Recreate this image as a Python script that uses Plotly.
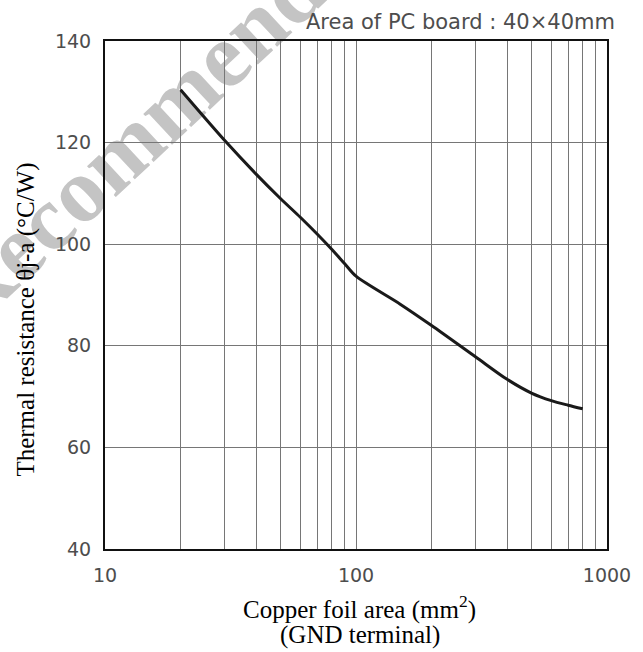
import plotly.graph_objects as go

# Data
copper_area = [20, 30, 40, 50, 60, 70, 80, 90, 100, 150, 200, 300, 400, 500, 600, 700, 800]
thermal_res = [130.4, 120.4, 113.8, 109.0, 105.3, 102.0, 99.0, 96.2, 93.7, 88.2, 84.0, 77.8,
               73.4, 70.7, 69.2, 68.3, 67.6]

x_tick_vals = [10, 100, 1000]
x_tick_text = ["10", "100", "1000"]
y_tick_vals = [40, 60, 80, 100, 120, 140]

x_title_1 = "Copper foil area (mm<sup>2</sup>)"
x_title_2 = "(GND terminal)"
y_title = "Thermal resistance θj-a (°C/W)"
board_note = "Area of PC board : 40×40mm"
watermark = "<b>Not Recommended</b>"

fig = go.Figure()
fig.add_trace(go.Scatter(
    x=copper_area, y=thermal_res, mode="lines",
    line=dict(color="#1a1a1a", width=3, shape="spline", smoothing=0.8),
    showlegend=False, hoverinfo="skip",
))

grid_col = "#767676"
tick_font = dict(family="DejaVu Sans, Liberation Sans", size=19, color="#4d4d4d")
title_font = dict(family="Liberation Serif, Times New Roman", size=25, color="#000")

fig.update_xaxes(
    type="log", range=[1, 3],
    tickvals=x_tick_vals, ticktext=x_tick_text,
    showgrid=True, gridcolor=grid_col, gridwidth=1,
    minor=dict(showgrid=True, gridcolor=grid_col, gridwidth=1, dtick="D1", ticks=""),
    showline=True, linecolor="#111", linewidth=2, mirror=True,
    ticks="", tickfont=tick_font, ticklabelstandoff=8,
    zeroline=False,
)
fig.update_yaxes(
    range=[40, 140], tickvals=y_tick_vals,
    showgrid=True, gridcolor=grid_col, gridwidth=1,
    showline=True, linecolor="#111", linewidth=2, mirror=True,
    ticks="", tickfont=tick_font, ticklabelstandoff=8,
    zeroline=False,
)

# Axis titles
fig.add_annotation(text=x_title_1, xref="paper", yref="paper", x=0.507, y=-0.116,
                   xanchor="center", yanchor="middle", showarrow=False, font=title_font)
fig.add_annotation(text=x_title_2, xref="paper", yref="paper", x=0.507, y=-0.170,
                   xanchor="center", yanchor="middle", showarrow=False, font=title_font)
fig.add_annotation(text=y_title, xref="paper", yref="paper", x=-0.158, y=0.451,
                   xanchor="center", yanchor="middle", textangle=-90, showarrow=False,
                   font=title_font)

fig.add_annotation(
    text=board_note, xref="paper", yref="paper",
    x=1.02, y=1.0, xanchor="right", yanchor="bottom", yshift=5, showarrow=False,
    font=dict(family="DejaVu Sans, Liberation Sans", size=21, color="#4d4d4d"),
)

# Watermark (drawn below grid and curve)
fig.add_shape(
    type="rect", xref="paper", yref="paper",
    x0=-0.03, x1=-0.004, y0=0.755, y1=0.78,
    line=dict(width=0), fillcolor="rgba(0,0,0,0)", layer="below",
    label=dict(text=watermark, textangle=-43, textposition="middle center",
               font=dict(family="Liberation Serif, Times New Roman", size=92, color="#c4c4c4")),
)

fig.update_layout(
    width=643, height=652,
    margin=dict(l=105, r=30, t=41, b=103),
    paper_bgcolor="white", plot_bgcolor="rgba(0,0,0,0)",
    showlegend=False,
)

fig.write_html("out.html")
